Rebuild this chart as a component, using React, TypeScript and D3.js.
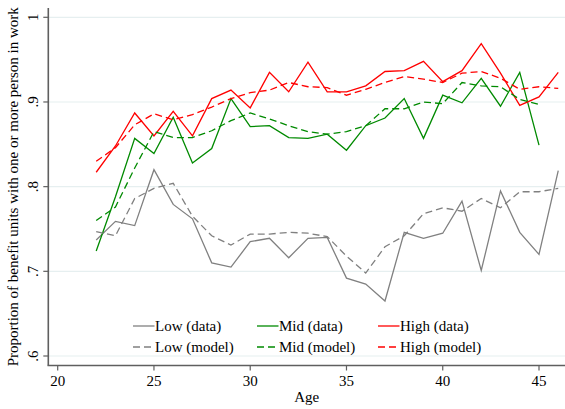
import React, { useEffect, useRef } from 'react';
import * as d3 from 'd3';

const ages = [22, 23, 24, 25, 26, 27, 28, 29, 30, 31, 32, 33, 34, 35, 36, 37, 38, 39, 40, 41, 42, 43, 44, 45, 46];

const lowData = [0.737, 0.759, 0.754, 0.820, 0.779, 0.762, 0.710, 0.705, 0.735, 0.739, 0.716, 0.739, 0.740, 0.692, 0.685, 0.665, 0.746, 0.739, 0.745, 0.783, 0.701, 0.795, 0.746, 0.720, 0.819];
const midData = [0.724, 0.788, 0.857, 0.839, 0.882, 0.828, 0.845, 0.904, 0.871, 0.872, 0.858, 0.857, 0.862, 0.843, 0.872, 0.881, 0.904, 0.857, 0.908, 0.899, 0.928, 0.895, 0.935, 0.849, null];
const highData = [0.817, 0.848, 0.887, 0.860, 0.889, 0.860, 0.904, 0.914, 0.893, 0.935, 0.912, 0.947, 0.912, 0.912, 0.919, 0.936, 0.937, 0.948, 0.924, 0.937, 0.969, 0.934, 0.896, 0.906, 0.935];

const lowModel = [0.747, 0.742, 0.786, 0.798, 0.804, 0.765, 0.742, 0.731, 0.744, 0.744, 0.746, 0.745, 0.741, 0.718, 0.698, 0.729, 0.742, 0.768, 0.775, 0.771, 0.786, 0.775, 0.794, 0.794, 0.798];
const midModel = [0.760, 0.776, 0.822, 0.865, 0.858, 0.858, 0.866, 0.878, 0.887, 0.880, 0.872, 0.865, 0.862, 0.865, 0.872, 0.892, 0.892, 0.900, 0.898, 0.923, 0.919, 0.918, 0.903, 0.897, null];
const highModel = [0.830, 0.846, 0.873, 0.886, 0.879, 0.885, 0.894, 0.904, 0.911, 0.914, 0.923, 0.918, 0.917, 0.908, 0.915, 0.923, 0.930, 0.927, 0.923, 0.934, 0.936, 0.928, 0.915, 0.918, 0.916];

const xTicks = [20, 25, 30, 35, 40, 45];
const yTicks = [0.6, 0.7, 0.8, 0.9, 1];
const yTickLabels = ['.6', '.7', '.8', '.9', '1'];

const series = [
    { label: 'Low (data)', values: lowData, color: '#808080', dashed: false },
    { label: 'Mid (data)', values: midData, color: '#008a00', dashed: false },
    { label: 'High (data)', values: highData, color: '#ff0000', dashed: false },
    { label: 'Low (model)', values: lowModel, color: '#808080', dashed: true },
    { label: 'Mid (model)', values: midModel, color: '#008a00', dashed: true },
    { label: 'High (model)', values: highModel, color: '#ff0000', dashed: true },
];

const App = () => {
    const ref = useRef(null);

    useEffect(() => {
        const width = 565;
        const height = 409;
        const font = '"Liberation Serif", "Times New Roman", serif';

        const svg = d3.select(ref.current);
        svg.selectAll('*').remove();

        const left = 48.3;
        const right = 565;
        const top = 8;
        const bottom = 365.5;

        const x = d3.scaleLinear().domain([20, 45]).range([57.7, 539]);
        const y = d3.scaleLinear().domain([0.6, 1]).range([356, 17.3]);

        svg.append('rect')
            .attr('width', width)
            .attr('height', height)
            .attr('fill', '#ffffff');

        // gridlines
        svg.selectAll('.grid')
            .data(yTicks)
            .enter()
            .append('line')
            .attr('x1', left)
            .attr('x2', right)
            .attr('y1', (d) => y(d))
            .attr('y2', (d) => y(d))
            .attr('stroke', '#e6eff0')
            .attr('stroke-width', 1.2);

        // series lines
        series.forEach((s) => {
            const line = d3.line()
                .defined((d: any) => d[1] !== null)
                .x((d: any) => x(d[0]))
                .y((d: any) => y(d[1]));
            svg.append('path')
                .datum(ages.map((a, i) => [a, s.values[i]]))
                .attr('d', line as any)
                .attr('fill', 'none')
                .attr('stroke', s.color)
                .attr('stroke-width', 1.3)
                .attr('stroke-dasharray', s.dashed ? '7,4' : null);
        });

        // axes
        const axisColor = '#5f5f5f';
        svg.append('line')
            .attr('x1', left).attr('x2', left)
            .attr('y1', top).attr('y2', bottom)
            .attr('stroke', axisColor).attr('stroke-width', 1.6);
        svg.append('line')
            .attr('x1', left - 0.8).attr('x2', right)
            .attr('y1', bottom).attr('y2', bottom)
            .attr('stroke', axisColor).attr('stroke-width', 1.6);

        svg.selectAll('.ytick')
            .data(yTicks)
            .enter()
            .append('line')
            .attr('x1', left - 5)
            .attr('x2', left)
            .attr('y1', (d) => y(d))
            .attr('y2', (d) => y(d))
            .attr('stroke', axisColor)
            .attr('stroke-width', 1.2);

        svg.selectAll('.ylabel')
            .data(yTicks)
            .enter()
            .append('text')
            .attr('transform', (d) => `translate(38, ${y(d)}) rotate(-90)`)
            .attr('text-anchor', 'middle')
            .style('font-family', font)
            .style('font-size', '15px')
            .text((_, i) => yTickLabels[i]);

        svg.selectAll('.xtick')
            .data(xTicks)
            .enter()
            .append('line')
            .attr('x1', (d) => x(d))
            .attr('x2', (d) => x(d))
            .attr('y1', bottom)
            .attr('y2', bottom + 5)
            .attr('stroke', axisColor)
            .attr('stroke-width', 1.2);

        svg.selectAll('.xlabel')
            .data(xTicks)
            .enter()
            .append('text')
            .attr('x', (d) => x(d))
            .attr('y', 386)
            .attr('text-anchor', 'middle')
            .style('font-family', font)
            .style('font-size', '15px')
            .text((d) => d);

        svg.append('text')
            .attr('x', (left + right) / 2)
            .attr('y', 402)
            .attr('text-anchor', 'middle')
            .style('font-family', font)
            .style('font-size', '15px')
            .text('Age');

        svg.append('text')
            .attr('transform', `translate(18, ${(top + bottom) / 2}) rotate(-90)`)
            .attr('text-anchor', 'middle')
            .style('font-family', font)
            .style('font-size', '15px')
            .text('Proportion of benefit units with one or more person in work');

        // legend
        const legendX = [133, 257, 378];
        const legendY = [326, 347];
        series.forEach((s, i) => {
            const lx = legendX[i % 3];
            const ly = legendY[Math.floor(i / 3)];
            svg.append('line')
                .attr('x1', lx)
                .attr('x2', lx + 21.5)
                .attr('y1', ly)
                .attr('y2', ly)
                .attr('stroke', s.color)
                .attr('stroke-width', 1.3)
                .attr('stroke-dasharray', s.dashed ? '7,4' : null);
            svg.append('text')
                .attr('x', lx + 22)
                .attr('y', ly + 5)
                .style('font-family', font)
                .style('font-size', '15px')
                .text(s.label);
        });
    }, []);

    return (
        <div style={{ position: 'absolute', left: 0, top: 0 }}>
            <svg ref={ref} width={565} height={409} style={{ display: 'block' }}></svg>
        </div>
    );
};

export default App;
